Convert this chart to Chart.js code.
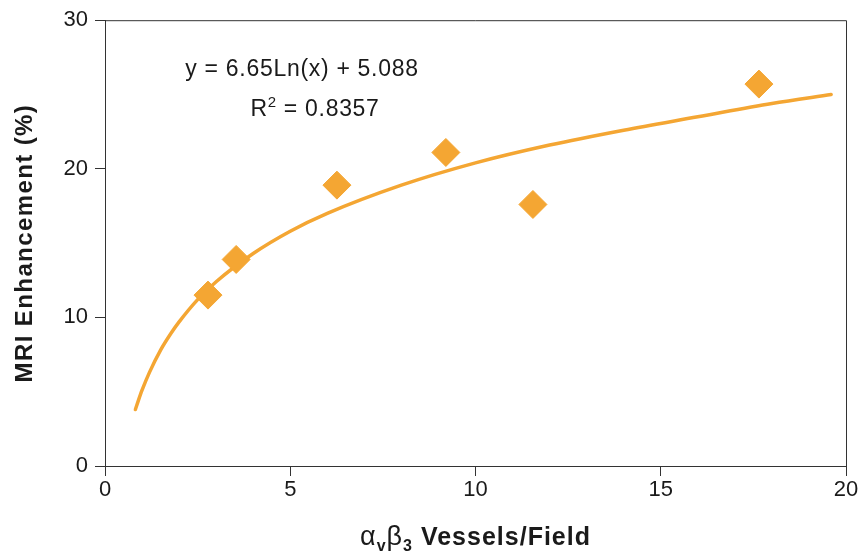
<!DOCTYPE html>
<html>
<head>
<meta charset="utf-8">
<script src="https://cdn.jsdelivr.net/npm/chart.js@4.4.1/dist/chart.umd.min.js"></script>
<style>
  html, body { margin: 0; padding: 0; background: #fff; }
  #wrap { width: 864px; height: 555px; position: relative; }
</style>
</head>
<body>
<div id="wrap"><canvas id="c" width="864" height="555"></canvas></div>
<script>
// ---- Data ----
const vesselsX = [2.78, 3.54, 6.26, 9.20, 11.55, 17.65];
const enhancementY = [11.5, 13.9, 18.9, 21.1, 17.6, 25.7];

// trend curve
const trendX = [0.82, 0.9, 1.0, 1.2, 1.5, 1.8, 2.0, 2.5, 3, 4, 5, 6, 8, 10, 12, 14, 16, 18, 19.6];
const trendY = [3.8, 4.4, 5.1, 6.3, 7.8, 9.0, 9.7, 11.2, 12.4, 14.3, 15.8, 17.0, 18.9, 20.4, 21.6, 22.6, 23.5, 24.4, 25.0];

const xTicks = [0, 5, 10, 15, 20];
const yTicks = [0, 10, 20, 30];

const equationText = 'y = 6.65Ln(x) + 5.088';
const r2Label = 'R';
const r2Sup = '2';
const r2Value = ' = 0.8357';
const yTitle = 'MRI Enhancement (%)';

const ORANGE = '#F4A633';
const AXIS = '#333333';
const TEXT = '#1a1a1a';
const FONT = "'Liberation Sans', Arial, Helvetica, sans-serif";

const scatterPts = vesselsX.map((x, i) => ({ x, y: enhancementY[i] }));
const trendPts = trendX.map((x, i) => ({ x, y: trendY[i] }));

const decorPlugin = {
  id: 'decor',
  afterDraw(chart) {
    const ctx = chart.ctx;
    const a = chart.chartArea;
    ctx.save();
    // frame top & right
    ctx.strokeStyle = AXIS;
    ctx.lineWidth = 1;
    ctx.beginPath();
    ctx.moveTo(a.left, a.top + 0.5);
    ctx.lineTo(a.right + 0.5, a.top + 0.5);
    ctx.lineTo(a.right + 0.5, a.bottom);
    ctx.stroke();

    ctx.fillStyle = TEXT;
    // equation text
    ctx.letterSpacing = '0.7px';
    ctx.font = '23px ' + FONT;
    ctx.textBaseline = 'alphabetic';
    ctx.textAlign = 'center';
    ctx.fillText(equationText, a.left + 197, a.top + 56);
    // R^2 line
    ctx.textAlign = 'left';
    const wR = ctx.measureText(r2Label).width;
    ctx.font = '15px ' + FONT;
    const wS = ctx.measureText(r2Sup).width;
    ctx.font = '23px ' + FONT;
    const wV = ctx.measureText(r2Value).width;
    let sx = a.left + 210 - (wR + wS + wV) / 2;
    const by = a.top + 96;
    ctx.fillText(r2Label, sx, by); sx += wR;
    ctx.font = '15px ' + FONT;
    ctx.fillText(r2Sup, sx, by - 9); sx += wS;
    ctx.font = '23px ' + FONT;
    ctx.fillText(r2Value, sx, by);

    // y axis title
    ctx.save();
    ctx.letterSpacing = '1.4px';
    ctx.translate(25, (a.top + a.bottom) / 2);
    ctx.rotate(-Math.PI / 2);
    ctx.textAlign = 'center';
    ctx.textBaseline = 'middle';
    ctx.font = 'bold 24px ' + FONT;
    ctx.fillText(yTitle, 0, 0);
    ctx.restore();

    // x axis title with subscripts
    ctx.letterSpacing = '1px';
    const parts = [
      { t: 'α', f: '27px ' + FONT, dy: 0 },
      { t: 'v', f: 'bold 16px ' + FONT, dy: 6 },
      { t: 'β', f: '27px ' + FONT, dy: 0 },
      { t: '3', f: 'bold 16px ' + FONT, dy: 6 },
      { t: ' Vessels/Field', f: 'bold 25px ' + FONT, dy: 0 }
    ];
    let total = 0;
    parts.forEach(p => { ctx.font = p.f; p.w = ctx.measureText(p.t).width; total += p.w; });
    let px = (a.left + a.right) / 2 - total / 2;
    const pby = 545;
    ctx.textAlign = 'left';
    ctx.textBaseline = 'alphabetic';
    parts.forEach(p => { ctx.font = p.f; ctx.fillText(p.t, px, pby + p.dy); px += p.w; });
    ctx.restore();
  }
};

new Chart(document.getElementById('c'), {
  type: 'scatter',
  data: {
    datasets: [
      {
        type: 'line',
        label: 'trend',
        data: trendPts,
        borderColor: ORANGE,
        borderWidth: 3.5,
        pointRadius: 0,
        fill: false,
        cubicInterpolationMode: 'monotone',
        borderCapStyle: 'round',
        order: 2
      },
      {
        label: 'data',
        data: scatterPts,
        pointStyle: 'rectRot',
        pointRadius: 14,
        pointBackgroundColor: ORANGE,
        pointBorderColor: ORANGE,
        pointBorderWidth: 1,
        order: 1
      }
    ]
  },
  options: {
    responsive: false,
    animation: false,
    devicePixelRatio: 1,
    layout: { padding: { left: 0, top: 20, right: 18, bottom: 0 } },
    plugins: { legend: { display: false }, tooltip: { enabled: false } },
    scales: {
      x: {
        type: 'linear',
        min: 0, max: 20,
        afterBuildTicks: s => { s.ticks = xTicks.map(v => ({ value: v })); },
        afterFit: s => { s.height = 89; },
        grid: { drawOnChartArea: false, drawTicks: true, tickLength: 10, tickColor: AXIS, color: AXIS },
        border: { display: true, color: AXIS, width: 1 },
        ticks: { color: TEXT, font: { family: FONT, size: 22 }, padding: 1, maxRotation: 0 }
      },
      y: {
        type: 'linear',
        min: 0, max: 30,
        afterBuildTicks: s => { s.ticks = yTicks.map(v => ({ value: v })); },
        afterFit: s => { s.width = 105; },
        grid: { drawOnChartArea: false, drawTicks: true, tickLength: 10, tickColor: AXIS, color: AXIS },
        border: { display: true, color: AXIS, width: 1 },
        ticks: { color: TEXT, font: { family: FONT, size: 22 }, padding: 7 }
      }
    }
  },
  plugins: [decorPlugin]
});
</script>
</body>
</html>
